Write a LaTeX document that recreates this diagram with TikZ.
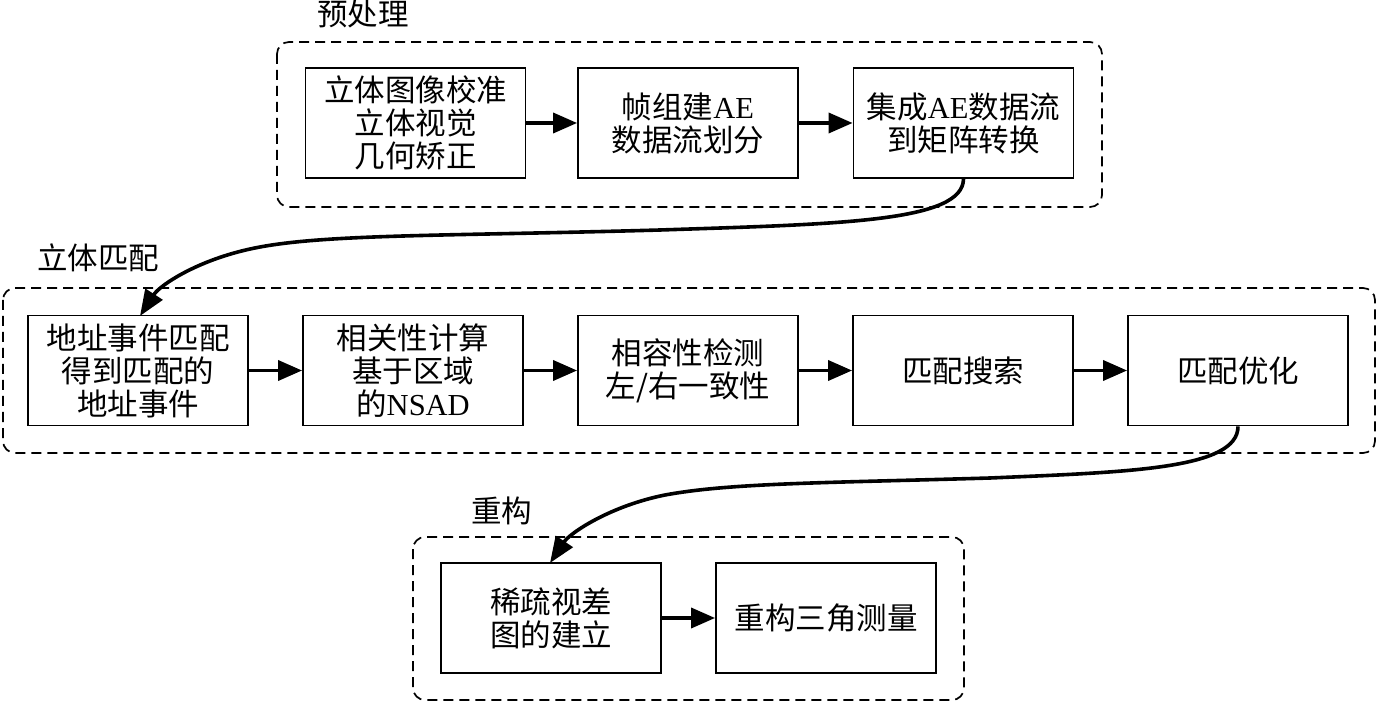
\documentclass[tikz,border=0pt]{standalone}
\usepackage{fontspec}
\setmainfont{Liberation Serif}
\newfontfamily\cjk{Noto Sans CJK SC}
\usetikzlibrary{arrows.meta}
\newcommand{\lat}[1]{{\rmfamily #1}}
\begin{document}
\begin{tikzpicture}[x=1pt,y=-1pt,
  procbox/.style={draw,line width=1.8pt,minimum width=220pt,minimum height=110pt,inner sep=0pt,align=center,
    font=\cjk\fontsize{30.5}{33}\selectfont},
  groupbox/.style={draw,line width=1.7pt,dash pattern=on 10pt off 6pt,rounded corners=12pt},
  grouplabel/.style={anchor=west,inner sep=0pt,font=\cjk\fontsize{30.5}{33}\selectfont},
  flow/.style={line width=3.6pt,-{Triangle[length=24pt,width=20pt]}},
  curvedflow/.style={line width=3.6pt,-{Triangle[length=26pt,width=20pt]}}]
\useasboundingbox (0,0) rectangle (1377,703);
\fill[white] (0,0) rectangle (1377,703);
% groups
\draw[groupbox] (277,42) rectangle (1102,207);
\draw[groupbox] (3,288) rectangle (1375,453);
\draw[groupbox] (413,537) rectangle (964,700);
\node[grouplabel] (g1) at (317,14) {预处理};
\node[grouplabel] (g2) at (37,258) {立体匹配};
\node[grouplabel] (g3) at (471,511) {重构};
% row 1
\node[procbox] (a1) at (415.5,123) {立体图像校准\\立体视觉\\几何矫正};
\node[procbox] (a2) at (688,123) {帧组建\lat{AE}\\数据流划分};
\node[procbox] (a3) at (963.5,123) {集成\lat{AE}数据流\\到矩阵转换};
% row 2
\node[procbox] (b1) at (138,370.5) {地址事件匹配\\得到匹配的\\地址事件};
\node[procbox] (b2) at (413,370.5) {相关性计算\\基于区域\\的\lat{NSAD}};
\node[procbox] (b3) at (688,370.5) {相容性检测\\左/右一致性};
\node[procbox] (b4) at (963,370.5) {匹配搜索};
\node[procbox] (b5) at (1238,370.5) {匹配优化};
% row 3
\node[procbox] (c1) at (551,618) {稀疏视差\\图的建立};
\node[procbox] (c2) at (826,618) {重构三角测量};
% arrows
\draw[flow] (a1) -- (a2);
\draw[flow] (a2) -- (a3);
\draw[flow] (b1) -- (b2);
\draw[flow] (b2) -- (b3);
\draw[flow] (b3) -- (b4);
\draw[flow] (b4) -- (b5);
\draw[flow] (c1) -- (c2);
\coordinate (t1) at (140,316);
\coordinate (t2) at (550,563);
\draw[curvedflow] (a3.south) .. controls (963,222) and (840,224) .. (660,230)
  .. controls (450,236) and (330,234) .. (260,247)
  .. controls (200,258) and (160,285) .. (t1);
\draw[curvedflow] (b5.south) .. controls (1238,469) and (1130,472) .. (990,478)
  .. controls (820,483) and (730,483) .. (665,495)
  .. controls (610,506) and (570,533) .. (t2);
\end{tikzpicture}
\end{document}
